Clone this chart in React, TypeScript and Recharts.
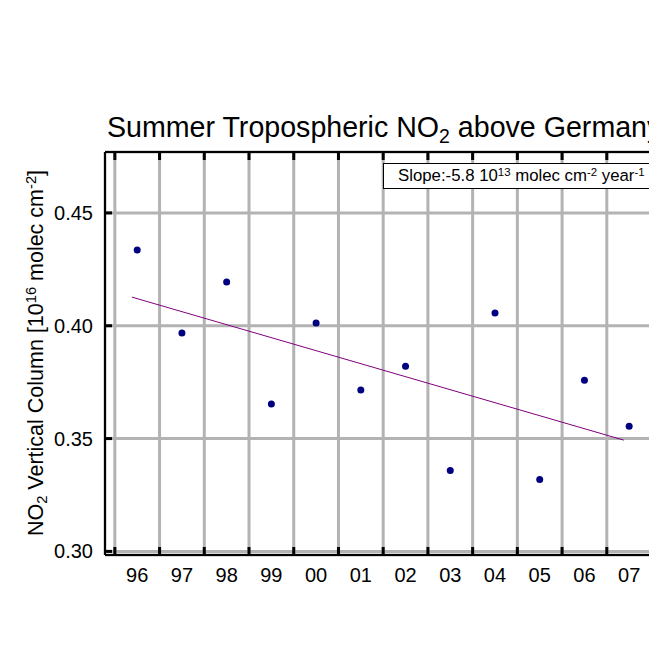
import React from 'react';
import {
  ComposedChart, Scatter, Line, XAxis, YAxis, CartesianGrid, ZAxis,
} from 'recharts';

const years = ['96', '97', '98', '99', '00', '01', '02', '03', '04', '05', '06', '07'];
const no2 = [0.4336, 0.3968, 0.4194, 0.3653, 0.4012, 0.3715, 0.3821, 0.3358, 0.4056, 0.3319, 0.3759, 0.3555];
const trendX = [-0.12, 10.88];
const trendV = [0.4127, 0.3493];
const yTicks = [0.3, 0.35, 0.4, 0.45];
const yearBoundaries = [-0.5, 0.5, 1.5, 2.5, 3.5, 4.5, 5.5, 6.5, 7.5, 8.5, 9.5, 10.5, 11.5];

const points = years.map((y, i) => ({ x: i, v: no2[i] }));
const trend = trendX.map((x, i) => ({ x, v: trendV[i] }));
const yearIdx = years.map((_, i) => i);

const FONT = '"Liberation Sans", Arial, Helvetica, sans-serif';
const X_DOMAIN: [number, number] = [-0.72, 11.6];
const Y_DOMAIN: [number, number] = [0.2984, 0.477];

const supStyle: React.CSSProperties = { fontSize: '0.68em', verticalAlign: '0.45em', lineHeight: 0 };
const subStyle: React.CSSProperties = { fontSize: '0.68em', verticalAlign: '-0.3em', lineHeight: 0 };

const Dot = (props: any) => {
  const { cx, cy } = props;
  if (cx == null || cy == null) return null;
  return <circle cx={cx} cy={cy} r={3.5} fill="#000080" />;
};

export default function App() {
  return (
    <div style={{ position: 'absolute', left: 0, top: 0, width: 649, height: 649, overflow: 'hidden', background: '#fff', fontFamily: FONT }}>
      <ComposedChart
        width={700}
        height={649}
        margin={{ top: 152, right: 44, bottom: 54, left: 45 }}
      >
        <CartesianGrid xAxisId="grid" yAxisId="left" stroke="#b3b3b3" strokeWidth={3} />
        <XAxis
          xAxisId="grid"
          type="number"
          dataKey="x"
          domain={X_DOMAIN}
          ticks={yearBoundaries}
          interval={0}
          mirror
          height={1}
          tickSize={8}
          tickFormatter={() => ''}
          tickLine={{ stroke: '#000', strokeWidth: 3 }}
          axisLine={{ stroke: '#000', strokeWidth: 2 }}
          allowDataOverflow
        />
        <XAxis
          xAxisId="top"
          orientation="top"
          type="number"
          dataKey="x"
          domain={X_DOMAIN}
          ticks={yearBoundaries}
          interval={0}
          mirror
          height={1}
          tickSize={8}
          tickFormatter={() => ''}
          tickLine={{ stroke: '#000', strokeWidth: 3 }}
          axisLine={{ stroke: '#000', strokeWidth: 2 }}
          allowDataOverflow
        />
        <XAxis
          xAxisId="labels"
          type="number"
          dataKey="x"
          domain={X_DOMAIN}
          ticks={yearIdx}
          interval={0}
          height={40}
          tickSize={0}
          tickMargin={13}
          tickLine={false}
          axisLine={false}
          tickFormatter={(i: number) => years[i]}
          tick={{ fill: '#000', fontSize: 20, fontFamily: FONT }}
          allowDataOverflow
        />
        <YAxis
          yAxisId="left"
          type="number"
          domain={Y_DOMAIN}
          ticks={yTicks}
          interval={0}
          width={60}
          tickSize={0}
          tickMargin={12}
          tickLine={false}
          axisLine={{ stroke: '#000', strokeWidth: 2 }}
          tickFormatter={(v: number) => v.toFixed(2)}
          tick={{ fill: '#000', fontSize: 20, fontFamily: FONT }}
          allowDataOverflow
        />
        <YAxis
          yAxisId="leftTicks"
          type="number"
          domain={Y_DOMAIN}
          ticks={yTicks}
          interval={0}
          mirror
          width={1}
          tickSize={7}
          tickFormatter={() => ''}
          tickLine={{ stroke: '#000', strokeWidth: 3 }}
          axisLine={false}
          allowDataOverflow
        />
        <ZAxis range={[40, 40]} />
        <Line
          data={trend}
          xAxisId="labels"
          yAxisId="left"
          dataKey="v"
          type="linear"
          stroke="#800080"
          strokeWidth={1}
          dot={false}
          activeDot={false}
          isAnimationActive={false}
        />
        <Scatter
          data={points}
          xAxisId="labels"
          yAxisId="left"
          dataKey="v"
          fill="#000080"
          shape={Dot}
          isAnimationActive={false}
        />
      </ComposedChart>

      <div style={{ position: 'absolute', left: 107, top: 113, fontSize: 28.6, lineHeight: '28px', whiteSpace: 'nowrap', color: '#000' }}>
        Summer Tropospheric NO<span style={subStyle}>2</span> above Germany
      </div>

      <div style={{
        position: 'absolute', left: 383, top: 163, width: 300, height: 26, boxSizing: 'border-box',
        border: '1px solid #000', background: '#fff', fontSize: 16.8, lineHeight: '24px', paddingLeft: 14, whiteSpace: 'nowrap', color: '#000',
      }}>
        Slope:-5.8 10<span style={supStyle}>13</span> molec cm<span style={supStyle}>-2</span> year<span style={supStyle}>-1</span>
      </div>

      <div style={{
        position: 'absolute', left: 36 - 250, top: 353 - 11, width: 500, height: 22, textAlign: 'center',
        transform: 'rotate(-90deg)', transformOrigin: '250px 11px', fontSize: 21.5, lineHeight: '22px', whiteSpace: 'nowrap', color: '#000',
      }}>
        NO<span style={subStyle}>2</span> Vertical Column [10<span style={supStyle}>16</span> molec cm<span style={supStyle}>-2</span>]
      </div>
    </div>
  );
}
